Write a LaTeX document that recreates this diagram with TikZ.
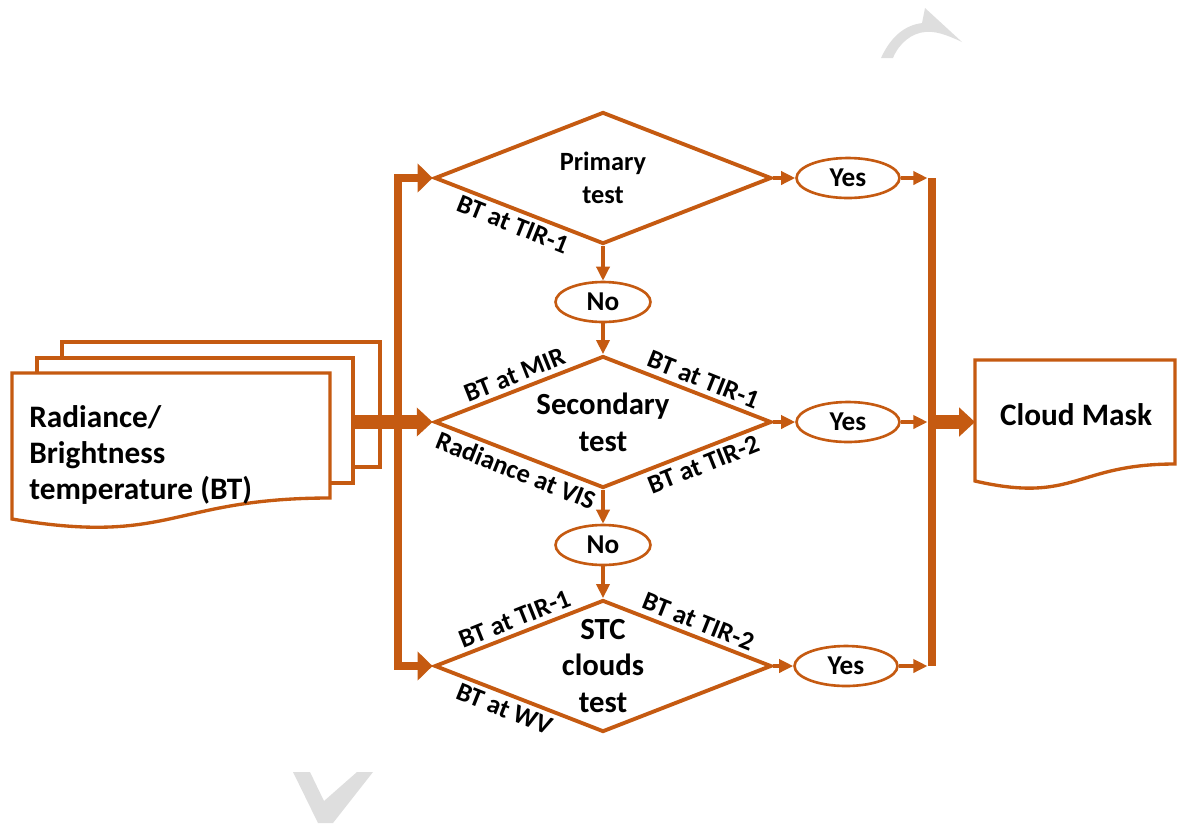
\documentclass[tikz,border=0pt]{standalone}
\usepackage{fontspec}
\setmainfont{Carlito}
\usetikzlibrary{shapes.geometric,arrows.meta}

\definecolor{rust}{RGB}{197,90,17}
\definecolor{wmgray}{RGB}{222,222,222}

\tikzset{
  test/.style={diamond, draw=rust, line width=2.2pt, fill=white,
    minimum width=6.74cm, minimum height=2.64cm, inner sep=0pt},
  testtext/.style={font=\bfseries\fontsize{17.5}{21}\selectfont, align=center},
  answer/.style={ellipse, draw=rust, line width=1.5pt, fill=white,
    minimum height=0.8cm, inner sep=0pt, font=\bfseries\fontsize{15.5}{18}\selectfont},
  edgelabel/.style={font=\bfseries\fontsize{15}{18}\selectfont, sloped, inner sep=2.5pt},
  doc/.style={draw=rust, line width=1.9pt, fill=white},
  doctext/.style={font=\bfseries\fontsize{17.8}{20.5}\selectfont, align=left, inner sep=0pt},
  flow/.style={draw=rust, line width=1.8pt, -{Triangle[length=8pt,width=7.5pt]}},
  trunk/.style={draw=rust, line width=5pt},
  bigflow/.style={draw=rust, line width=8.5pt, -{Triangle[length=9pt,width=16pt]}},
}

\begin{document}
\begin{tikzpicture}[x=0.02cm, y=-0.02cm]
	\useasboundingbox (0,0) rectangle (1177,823);
	
	% watermark pieces
	\fill[wmgray] (881,58) .. controls (892,34) and (907,25) .. (922,23) -- (925,8) -- (962,42)
		.. controls (945,34) and (935,31) .. (925,32) .. controls (912,33) and (899,43) .. (893,58) -- cycle;
	\fill[wmgray] (293,772) -- (310,772) -- (324,801) -- (357,772) -- (373,772) -- (333,823) -- (318,823) -- cycle;
	
	% input documents
	\draw[doc] (62,342) rectangle (380,467);
	\draw[doc] (37,358) rectangle (353,483);
	\draw[doc] (12,373) -- (330,373) -- (330,498) .. controls (171,498) and (171,546) .. (12,519) -- cycle;
	\node[doctext, anchor=north west] (src) at (29,405) {Radiance/\\Brightness\\temperature (BT)};
	
	% output document
	\draw[doc] (975,360) -- (1175,360) -- (1175,464) .. controls (1075,464) and (1075,504) .. (975,481) -- cycle;
	\node[doctext] (mask) at (1076,415) {Cloud Mask};
	
	% tests
	\node[test, label={[testtext, font=\bfseries\fontsize{15}{19}\selectfont]center:{Primary\\test}}] (prim) at (603,178) {};
	\node[test, label={[testtext]center:{Secondary\\test}}] (sec) at (603,422) {};
	\node[test, label={[testtext]center:{STC\\clouds\\test}}] (stc) at (603,666) {};
	
	% answers
	\node[answer, minimum width=1.9cm] (no1) at (603,302) {No};
	\node[answer, minimum width=1.9cm] (no2) at (603,545) {No};
	\node[answer, minimum width=2.06cm] (yes1) at (848,178) {Yes};
	\node[answer, minimum width=2.06cm] (yes2) at (848,422) {Yes};
	\node[answer, minimum width=2.06cm] (yes3) at (846,666) {Yes};
	
	\coordinate (stack) at (353,422);
	\coordinate (split) at (398,422);
	\coordinate (join) at (932,422);
	\coordinate (maskin) at (975,422);
	
	% input to the tests
	\draw[bigflow] (stack) -- (sec.west);
	\draw[trunk, -{Triangle[length=8.5pt,width=16pt]}] (split) |- (prim.west);
	\draw[trunk, -{Triangle[length=8.5pt,width=16pt]}] (split) |- (stc.west);
	
	% down the chain
	\draw[flow] (prim.south) -- (no1);
	\draw[flow] (no1) -- (sec.north);
	\draw[flow] (sec.south) -- (no2);
	\draw[flow] (no2) -- (stc.north);
	
	% to the cloud mask
	\draw[flow] (prim.east) -- (yes1);
	\draw[flow] (sec.east) -- (yes2);
	\draw[flow] (stc.east) -- (yes3);
	\draw[flow, shorten >=2.6pt] (yes1) -- (yes1 -| join);
	\draw[flow, shorten >=2.6pt] (yes2) -- (yes2 -| join);
	\draw[flow, shorten >=2.6pt] (yes3) -- (yes3 -| join);
	\draw[trunk] (yes1 -| join) -- (yes3 -| join);
	\draw[bigflow] (join) -- (maskin);
	
	% band labels
	\path (prim.west) -- (prim.south) node[edgelabel, midway, below] (l1) {BT at TIR-1};
	\path (sec.west) -- (sec.north) node[edgelabel, pos=0.51, above] (l2) {BT at MIR};
	\path (sec.north) -- (sec.east) node[edgelabel, pos=0.56, above] (l3) {BT at TIR-1};
	\path (sec.west) -- (sec.south) node[edgelabel, pos=0.52, below] (l4) {Radiance at VIS};
	\path (sec.south) -- (sec.east) node[edgelabel, pos=0.56, below] (l5) {BT at TIR-2};
	\path (stc.west) -- (stc.north) node[edgelabel, pos=0.51, above] (l6) {BT at TIR-1};
	\path (stc.north) -- (stc.east) node[edgelabel, pos=0.53, above] (l7) {BT at TIR-2};
	\path (stc.west) -- (stc.south) node[edgelabel, pos=0.45, below] (l8) {BT at WV};
	
\end{tikzpicture}
\end{document}
